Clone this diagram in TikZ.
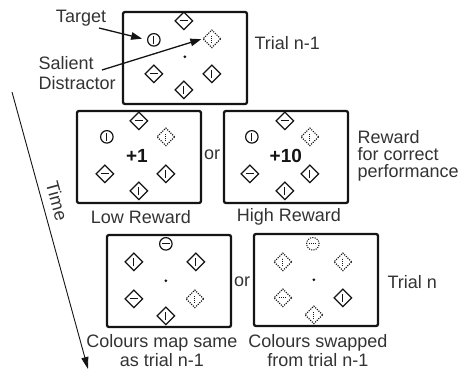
\documentclass[tikz,border=0pt]{standalone}
\usepackage{fontspec}
\setmainfont{Liberation Sans}
\usetikzlibrary{shapes.geometric,arrows.meta,calc}
\definecolor{ink}{gray}{0.08}
\definecolor{txt}{gray}{0.20}

% place a stimulus relative to a panel's top-left corner
\newcommand\stimat[5]{\node[#1] (#2) at ($(#3.north west)+(#4,#5)$) {};}

\begin{document}
\begin{tikzpicture}[x=1pt,y=-1pt,
  every node/.style={text=txt, font=\fontsize{18}{19}\selectfont},
  barstyle/.style={solid},
  panel/.style={draw=ink, line width=2.3pt, rounded corners=2pt,
    minimum width=124pt, minimum height=92pt, inner sep=0pt},
  dia/.style={diamond, draw=ink, line width=1.3pt, minimum size=18pt, inner sep=0pt},
  ring/.style={circle, draw=ink, line width=1.2pt, minimum size=12.5pt, inner sep=0pt},
  vbar/.style={path picture={\draw[ink, line width=1pt, barstyle]
    ([yshift=-4.2pt]path picture bounding box.center) -- ([yshift=4.2pt]path picture bounding box.center);}},
  hbar/.style={path picture={\draw[ink, line width=1pt, barstyle]
    ([xshift=-4.2pt]path picture bounding box.center) -- ([xshift=4.2pt]path picture bounding box.center);}},
  dots/.style={dash pattern=on 1.1pt off 1.2pt, line width=1.1pt,
    barstyle/.style={dash pattern=on 1.1pt off 1pt, line width=1pt}},
  fix/.style={circle, fill=ink, inner sep=0pt, minimum size=3pt},
  pointer/.style={draw=ink, line width=1.3pt, -{Triangle[length=11pt,width=7.5pt]}},
  timeline/.style={draw=ink, line width=0.9pt, -{Triangle[length=12pt,width=7pt]}},
  score/.style={font=\fontsize{19}{19}\selectfont\bfseries, text=ink},
]
\useasboundingbox (0,0) rectangle (460,371);

% ---- panels ----
\node[panel] (b1) at (185,58) {};
\node[panel] (lo) at (139,157) {};
\node[panel] (hi) at (286,157) {};
\node[panel] (sa) at (169,281) {};
\node[panel] (sw) at (316,280) {};

% ---- trial n-1 ----
\stimat{dia,hbar}{b1t}{b1}{62}{10}
\stimat{ring,vbar}{b1ul}{b1}{32}{29}
\stimat{dia,vbar,dots}{b1ur}{b1}{90}{28}
\stimat{fix}{b1c}{b1}{63}{46}
\stimat{dia,hbar}{b1ll}{b1}{32}{63}
\stimat{dia,vbar}{b1lr}{b1}{90}{63}
\stimat{dia,vbar}{b1b}{b1}{62}{79}

% ---- low reward ----
\stimat{dia,hbar}{lot}{lo}{63}{11}
\stimat{ring,vbar}{loul}{lo}{31}{27}
\stimat{dia,vbar,dots}{lour}{lo}{90}{27}
\stimat{dia,hbar}{loll}{lo}{29}{64}
\stimat{dia,vbar}{lolr}{lo}{90}{64}
\stimat{dia,vbar}{lob}{lo}{63}{81}
\node[score] (loc) at ($(lo.north west)+(61,46)$) {+1};

% ---- high reward ----
\stimat{dia,hbar}{hit}{hi}{62}{11}
\stimat{ring,vbar}{hiul}{hi}{29}{27}
\stimat{dia,vbar,dots}{hiur}{hi}{87}{27}
\stimat{dia,hbar}{hill}{hi}{27}{64}
\stimat{dia,vbar}{hilr}{hi}{87}{64}
\stimat{dia,vbar}{hib}{hi}{62}{81}
\node[score] (hic) at ($(hi.north west)+(63,46)$) {+10};

% ---- trial n, same mapping ----
\stimat{ring,hbar}{sat}{sa}{60}{10}
\stimat{dia,vbar}{saul}{sa}{28}{28}
\stimat{dia,vbar}{saur}{sa}{90}{28}
\stimat{fix}{sac}{sa}{60}{47}
\stimat{dia,hbar}{sall}{sa}{28}{65}
\stimat{dia,vbar,dots}{salr}{sa}{89}{65}
\stimat{dia,vbar}{sab}{sa}{60}{82}

% ---- trial n, swapped mapping ----
\stimat{ring,hbar,dots}{swt}{sw}{60}{11}
\stimat{dia,vbar,dots}{swul}{sw}{30}{29}
\stimat{dia,vbar,dots}{swur}{sw}{90}{29}
\stimat{fix}{swc}{sw}{61}{47}
\stimat{dia,hbar,dots}{swll}{sw}{30}{65}
\stimat{dia,vbar}{swlr}{sw}{90}{65}
\stimat{dia,vbar,dots}{swb}{sw}{61}{82}

% ---- labels ----
\node (tgt) at (81,18) {Target};
\node[align=left, anchor=west] (sal) at (35,73) {Salient\\[1pt]Distractor};
\coordinate (tgtfrom) at (99,28);
\coordinate (salfrom) at (102,70);
\draw[pointer, shorten >=5pt] (tgtfrom) -- (b1ul.west);
\draw[pointer, shorten >=1pt] (salfrom) -- (b1ur.west);

\node[anchor=west] (tn1) at (251,43) {Trial n-1};
\node (or1) at (212,155) {or};
\node (lolab) at (141,217) {Low Reward};
\node (hilab) at (289,217) {High Reward};
\node[align=left, anchor=west, font=\fontsize{18}{17}\selectfont] (rew) at (354,156)
  {Reward\\for correct\\performance};

\node (or2) at (242,282) {or};
\node[anchor=west] (tn) at (384,282) {Trial n};
\node[align=center] (salab) at (162,351) {Colours map same\\as trial n-1};
\node[align=center] (swlab) at (318,351) {Colours swapped\\from trial n-1};

% ---- time axis ----
\coordinate (tA) at (12,92);
\coordinate (tB) at (88,369);
\draw[timeline] (tA) -- (tB);
\node[rotate=-74.6] (time) at (57,201) {Time};
\end{tikzpicture}
\end{document}
